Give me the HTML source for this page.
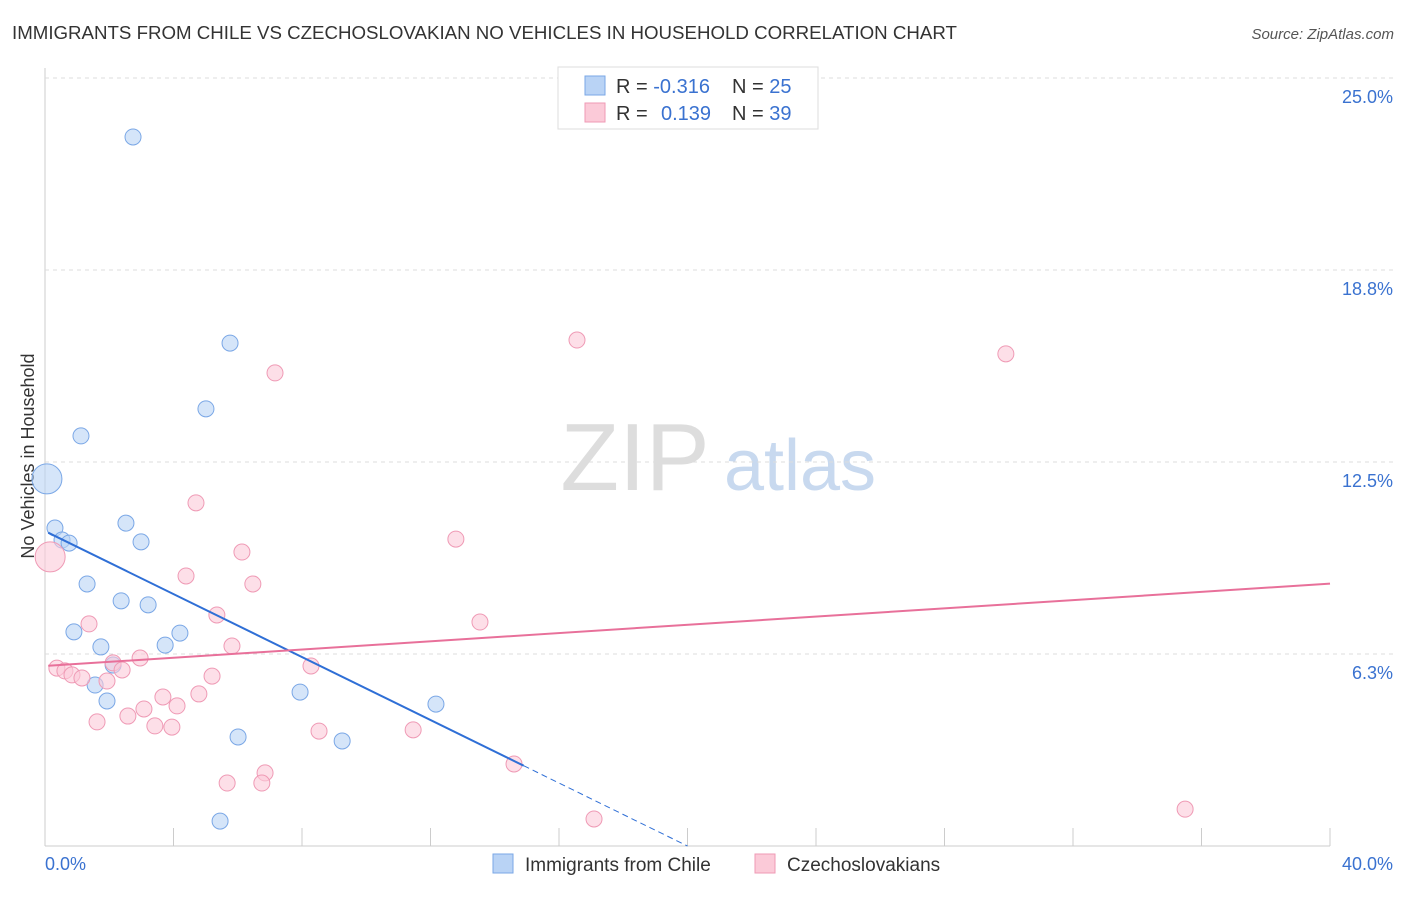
<!DOCTYPE html>
<html><head><meta charset="utf-8"><style>
body{margin:0;background:#fff;font-family:"Liberation Sans",sans-serif;}
svg text{font-family:"Liberation Sans",sans-serif;}
</style></head><body>
<svg id="chart" width="1406" height="892">
<text x="12" y="39" font-size="18.7" fill="#333">IMMIGRANTS FROM CHILE VS CZECHOSLOVAKIAN NO VEHICLES IN HOUSEHOLD CORRELATION CHART</text>
<text x="1394" y="39" font-size="15" fill="#555" text-anchor="end" font-style="italic">Source: ZipAtlas.com</text>
<text x="34" y="456" font-size="18" fill="#333" text-anchor="middle" transform="rotate(-90 34 456)">No Vehicles in Household</text>
<g><text x="635" y="490" font-size="96" fill="#ddd" text-anchor="middle" font-family="Liberation Serif">ZIP</text><text x="800" y="490" font-size="72" fill="#c8d9ef" text-anchor="middle">atlas</text></g>
<g id="grid"></g><g id="marks"></g>
<g>
<rect x="558" y="67" width="260" height="62" fill="#fff" stroke="#ddd"/>
<rect x="585" y="76" width="20" height="19" fill="#b9d3f5" stroke="#7aa7e6"/>
<rect x="585" y="103" width="20" height="19" fill="#fbcad8" stroke="#ef9ab5"/>
<text x="616" y="93" font-size="20" fill="#333">R = <tspan fill="#3a72d0">-0.316</tspan><tspan x="732">N = </tspan><tspan fill="#3a72d0">25</tspan></text>
<text x="616" y="120" font-size="20" fill="#333">R = <tspan x="661" fill="#3a72d0">0.139</tspan><tspan x="732">N = </tspan><tspan fill="#3a72d0">39</tspan></text>
</g>
<g>
<rect x="493" y="854" width="20" height="19" fill="#b9d3f5" stroke="#7aa7e6"/>
<text x="525" y="871" font-size="19" fill="#333">Immigrants from Chile</text>
<rect x="755" y="854" width="20" height="19" fill="#fbcad8" stroke="#ef9ab5"/>
<text x="787" y="871" font-size="19" fill="#333">Czechoslovakians</text>
</g>
</svg>
<script>
const yTicks=[6.25,12.5,18.75,25];
const yTickLabels=["6.3%","12.5%","18.8%","25.0%"];
const xTickLabels=["0.0%","40.0%"];
const chileX=[2.74,0.06,5.76,5.01,1.12,0.31,0.53,0.75,2.52,2.99,1.31,2.37,3.21,0.90,4.20,1.74,3.74,2.12,1.56,1.93,7.94,12.17,6.01,9.25,5.45];
const chileY=[23.08,11.95,16.37,14.23,13.35,10.35,9.96,9.86,10.51,9.90,8.53,7.98,7.85,6.97,6.93,6.48,6.54,5.89,5.24,4.72,5.01,4.62,3.55,3.42,0.81];
const czechX=[16.56,29.91,7.16,4.70,12.79,6.13,4.39,6.47,5.35,13.54,1.37,5.82,2.96,2.12,8.28,0.37,0.62,0.84,1.15,2.40,1.93,5.20,3.67,4.79,3.08,4.11,2.58,1.62,3.42,3.95,8.53,11.46,6.85,5.67,6.75,14.60,17.09,35.49,0.16];
const czechY=[16.47,16.02,15.40,11.17,9.99,9.57,8.79,8.53,7.52,7.29,7.23,6.51,6.12,5.96,5.86,5.79,5.70,5.57,5.47,5.73,5.37,5.53,4.85,4.95,4.46,4.56,4.23,4.04,3.91,3.87,3.74,3.78,2.38,2.05,2.05,2.67,0.88,1.20,9.41];
const chileTrend=[10.25,-0.5125];
const czechTrend=[5.86,0.067];
const NS="http://www.w3.org/2000/svg";
const X=v=>45+v/40*1285, Y=v=>846-v/25*768;
function mk(t,a,p){const e=document.createElementNS(NS,t);for(const k in a)e.setAttribute(k,a[k]);p.appendChild(e);return e;}
const g=document.getElementById('grid'), m=document.getElementById('marks');
const ax=mk('line',{x1:45,y1:68,x2:45,y2:846,stroke:'#ccc'},g);


const bx=mk('line',{x1:45,y1:846,x2:1330,y2:846,stroke:'#ccc'},g);


for(let i=0;i<=10;i++){const tk=mk('line',{x1:X(i*4),y1:828,x2:X(i*4),y2:846,stroke:'#ccc'},g);

}
yTicks.forEach((v,i)=>{const l=mk('line',{x1:45,y1:Y(v),x2:1394,y2:Y(v),stroke:'#ddd','stroke-dasharray':'4,4'},g);


const t=mk('text',{x:1393,y:Y(v)+25,'font-size':18,fill:'#3a72d0','text-anchor':'end'},g);t.textContent=yTickLabels[i];

});
[[0,45,'start'],[1,1393,'end']].forEach(([i,x,a])=>{const t=mk('text',{x:x,y:870,'font-size':18,fill:'#3a72d0','text-anchor':a},g);t.textContent=xTickLabels[i];

});
function pts(xs,ys,fill,stroke,name,big){xs.forEach((x,i)=>{const r=(big.includes(i))?15:8;const c=mk('circle',{cx:X(x),cy:Y(ys[i]),r:r,fill:fill,'fill-opacity':0.6,stroke:stroke,'stroke-width':1},m);

});}
pts(chileX,chileY,'#b9d3f5','#7aa7e6','chile-point',[1]);
pts(czechX,czechY,'#fbcad8','#ef9ab5','czech-point',[38]);
const bt=x=>chileTrend[0]+chileTrend[1]*x;
const l1=mk('line',{x1:X(0.1),y1:Y(bt(0.1)),x2:X(14.9),y2:Y(bt(14.9)),stroke:'#2f6fd6','stroke-width':2},m);


const xe=-chileTrend[0]/chileTrend[1];
const l2=mk('line',{x1:X(14.9),y1:Y(bt(14.9)),x2:X(xe),y2:Y(0),stroke:'#2f6fd6','stroke-width':1,'stroke-dasharray':'6,4'},m);


const pt=x=>czechTrend[0]+czechTrend[1]*x;
const l3=mk('line',{x1:X(0.1),y1:Y(pt(0.1)),x2:X(40),y2:Y(pt(40)),stroke:'#e8709a','stroke-width':2},m);


</script>
</body></html>
